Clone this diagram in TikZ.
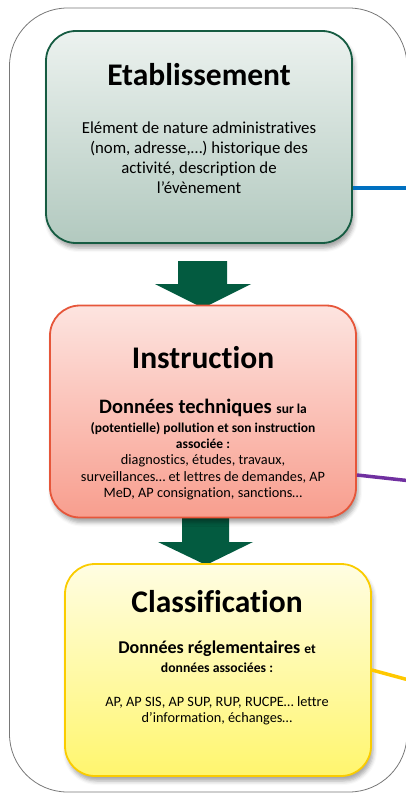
\documentclass[tikz,border=0pt]{standalone}
\usepackage{fontspec}
\setmainfont{Carlito}[RawFeature={-liga}]
\usetikzlibrary{shadows.blur}
\definecolor{frameg}{RGB}{120,120,120}
\definecolor{grnb}{RGB}{22,92,66}
\definecolor{grnt}{RGB}{236,242,239}
\definecolor{grnbot}{RGB}{178,201,191}
\definecolor{redb}{RGB}{230,86,58}
\definecolor{redt}{RGB}{253,228,224}
\definecolor{redbot}{RGB}{248,158,142}
\definecolor{yelb}{RGB}{250,204,0}
\definecolor{yelt}{RGB}{255,253,226}
\definecolor{yelbot}{RGB}{255,246,110}
\definecolor{arrg}{RGB}{3,91,64}
\definecolor{lblue}{RGB}{0,112,192}
\definecolor{lpurp}{RGB}{112,48,160}
\definecolor{lyel}{RGB}{255,200,0}
\begin{document}
\begin{tikzpicture}[x=1pt,y=-1pt,
  boxbase/.style={rounded corners=30pt, line width=1.8pt, minimum width=306pt, minimum height=212pt, inner sep=0pt,
    blur shadow={shadow xshift=2pt, shadow yshift=-5pt, shadow blur radius=4pt, shadow opacity=35}},
  greenbox/.style={boxbase, draw=grnb, top color=grnt, bottom color=grnbot},
  redbox/.style={boxbase, draw=redb, top color=redt, bottom color=redbot},
  yelbox/.style={boxbase, draw=yelb, top color=yelt, bottom color=yelbot},
  ttl/.style={anchor=base, inner sep=0pt, font=\fontsize{31.5}{34}\selectfont\bfseries},
  txt/.style={anchor=base, inner sep=0pt, font=\fontsize{14.3}{17}\selectfont},
  btxt/.style={anchor=base, inner sep=0pt, font=\fontsize{13.5}{16}\selectfont\bfseries},
  blockarrow/.style={fill=arrg},
  link/.style={line width=3.5pt}
]
\useasboundingbox (0,0) rectangle (406,800);
% outer frame
\draw[frameg, line width=0.8pt, rounded corners=58pt] (9.5,8) rectangle (407,792);

% arrows
\coordinate (a1) at (178,261);
\fill[blockarrow] (a1) -- (227,261) -- (227,284) -- (251,284) -- (203,308) -- (155,284) -- (178,284) -- cycle;
\coordinate (a2) at (182,518);
\fill[blockarrow] (a2) -- (229,518) -- (229,542) -- (253,542) -- (206,565) -- (158,542) -- (182,542) -- cycle;

% boxes
\node[greenbox] (e1) at (199,137) {};
\node[redbox] (e2) at (203,411.5) {};
\node[yelbox] (e3) at (218,670) {};

% links
\coordinate (bend) at (407,188);
\coordinate (pend) at (407,480.5);
\coordinate (yend) at (407,679.5);
\draw[link, lblue] (e1.east |- 0,188) -- (bend);
\draw[link, lpurp] (e2.east |- 0,475) -- (pend);
\draw[link, lyel] (e3.east |- 0,670) -- (yend);

% Etablissement text
\node[ttl] (t1) at (199,85) {Etablissement};
\node[txt, font=\fontsize{16.8}{19}\selectfont] (l11) at (199,133) {Elément de nature administratives};
\node[txt, font=\fontsize{16.8}{19}\selectfont] (l12) at (199,153) {(nom, adresse,…) historique des};
\node[txt, font=\fontsize{16.8}{19}\selectfont] (l13) at (199,173) {activité, description de};
\node[txt, font=\fontsize{16.8}{19}\selectfont] (l14) at (199,193) {l’évènement};

% Instruction text
\node[ttl] (t2) at (203,368) {Instruction};
\node[anchor=base, inner sep=0pt] (l21) at (203,413) {\fontsize{20.5}{23}\selectfont\bfseries Données techniques \fontsize{13.5}{15}\selectfont sur la};
\node[btxt] (l22) at (203,432) {(potentielle) pollution et son instruction};
\node[btxt] (l23) at (203,448) {associée :};
\node[txt] (l24) at (203,464) {diagnostics, études, travaux,};
\node[txt] (l25) at (203,481) {surveillances… et lettres de demandes, AP};
\node[txt] (l26) at (203,497) {MeD, AP consignation, sanctions…};

% Classification text
\node[ttl] (t3) at (217,612) {Classification};
\node[anchor=base, inner sep=0pt] (l31) at (217,653) {\fontsize{18}{21}\selectfont\bfseries Données réglementaires \fontsize{13.5}{15}\selectfont et};
\node[btxt, font=\fontsize{13.7}{16}\selectfont\bfseries] (l32) at (217,672) {données associées :};
\node[txt] (l33) at (217,706) {AP, AP SIS, AP SUP, RUP, RUCPE… lettre};
\node[txt] (l34) at (217,722) {d’information, échanges…};
\end{tikzpicture}
\end{document}
